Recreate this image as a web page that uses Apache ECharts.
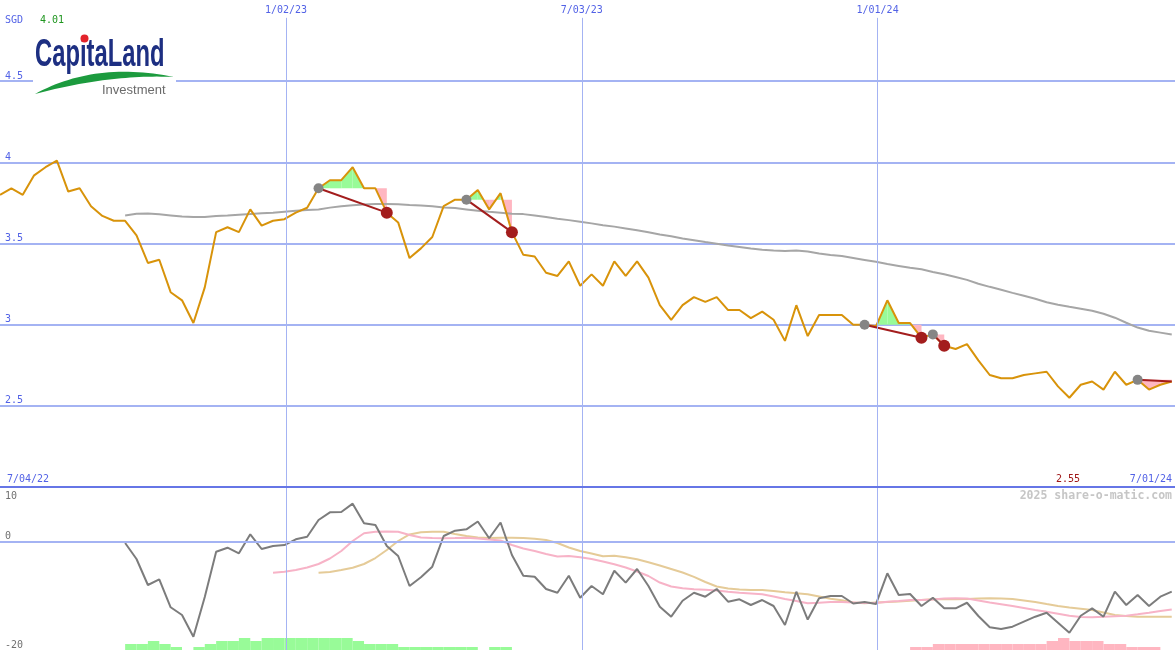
<!DOCTYPE html>
<html><head><meta charset="utf-8">
<script src="https://cdn.jsdelivr.net/npm/echarts@6/dist/echarts.min.js"></script>
<style>html,body{margin:0;padding:0;background:#ffffff}#c{width:1175px;height:650px}</style>
</head><body><div id="c"></div><script>
// ---------- data (weekly closes) ----------
const firstWeek = '2022-07-10';
const rangeEnd = '2024-07-02';
const currency = 'SGD';
const rangeStartLabel = '7/04/22';
const rangeEndLabel = '7/01/24';
const gridDates = ['2023-01-02', '2023-07-03', '2024-01-01'];
const gridLabels = ['1/02/23', '7/03/23', '1/01/24'];

const price = [3.80,3.84,3.80,3.92,3.97,4.01,3.82,3.84,3.73,3.67,
  3.64,3.64,3.55,3.38,3.40,3.20,3.15,3.01,3.23,3.57,
  3.60,3.57,3.71,3.61,3.64,3.65,3.69,3.72,3.84,3.89,
  3.89,3.97,3.84,3.84,3.69,3.63,3.41,3.47,3.54,3.73,
  3.77,3.77,3.83,3.71,3.81,3.57,3.43,3.42,3.32,3.30,
  3.39,3.24,3.31,3.24,3.39,3.30,3.39,3.29,3.12,3.03,
  3.12,3.17,3.14,3.17,3.09,3.09,3.04,3.08,3.03,2.90,
  3.12,2.93,3.06,3.06,3.06,3.00,3.00,2.99,3.15,3.01,
  3.01,2.92,2.94,2.87,2.85,2.88,2.78,2.69,2.67,2.67,
  2.69,2.70,2.71,2.62,2.55,2.63,2.65,2.60,2.71,2.63,
  2.66,2.60,2.63,2.65];

const movingAvg = [null,null,null,null,null,null,null,null,null,null,
  null,3.673,3.683,3.685,3.680,3.673,3.666,3.663,3.663,3.669,
  3.672,3.677,3.681,3.687,3.690,3.696,3.702,3.706,3.710,3.721,
  3.730,3.736,3.740,3.743,3.744,3.742,3.737,3.734,3.730,3.722,
  3.718,3.710,3.702,3.695,3.690,3.684,3.681,3.672,3.663,3.653,
  3.644,3.634,3.624,3.613,3.604,3.593,3.581,3.569,3.555,3.544,
  3.531,3.520,3.509,3.499,3.488,3.479,3.469,3.462,3.457,3.454,
  3.457,3.451,3.439,3.429,3.423,3.411,3.399,3.387,3.374,3.362,
  3.350,3.341,3.325,3.310,3.294,3.276,3.252,3.233,3.215,3.196,
  3.178,3.160,3.138,3.123,3.110,3.098,3.086,3.067,3.043,3.012,
  2.982,2.963,2.951,2.939];

const oscillator = [null,null,null,null,null,null,null,null,null,null,
  null,-0.31,-3.25,-8.04,-6.99,-12.14,-13.56,-17.55,-10.25,-1.91,
  -1.17,-2.20,1.29,-1.41,-0.86,-0.68,0.37,0.85,3.93,5.34,
  5.40,6.93,3.32,3.01,-0.86,-2.70,-8.22,-6.62,-4.67,0.98,
  1.96,2.21,3.65,0.56,3.47,-2.52,-6.33,-6.51,-8.77,-9.46,
  -6.33,-10.38,-8.22,-9.75,-5.41,-7.61,-5.09,-8.22,-12.03,-13.87,
  -10.93,-9.46,-10.19,-8.77,-11.11,-10.67,-11.72,-10.80,-11.90,-15.40,
  -9.27,-14.39,-10.49,-10.06,-10.06,-11.44,-11.17,-11.54,-5.88,-9.88,
  -9.69,-11.90,-10.38,-12.33,-12.33,-11.30,-13.74,-15.82,-16.14,-15.71,
  -14.79,-13.87,-13.14,-14.98,-16.82,-13.69,-12.33,-13.87,-9.27,-11.72,
  -9.88,-11.90,-10.19,-9.27];

const oscSignal = [null,null,null,null,null,null,null,null,null,null,
  null,null,null,null,null,null,null,null,null,null,
  null,null,null,null,-5.77,-5.59,-5.28,-4.82,-4.17,-3.16,
  -1.78,0.06,1.48,1.77,1.81,1.77,1.17,0.70,0.61,0.56,
  0.61,0.67,0.52,0.34,0.15,-0.68,-1.32,-1.78,-2.33,-2.79,
  -2.70,-2.94,-3.25,-3.71,-4.23,-4.82,-5.55,-6.38,-7.58,-8.31,
  -8.65,-8.83,-8.92,-9.05,-9.27,-9.47,-9.60,-9.75,-10.15,-10.61,
  -10.98,-11.41,-11.30,-11.17,-11.17,-11.26,-11.35,-11.35,-11.11,-10.98,
  -10.80,-10.80,-10.71,-10.52,-10.49,-10.52,-10.89,-11.26,-11.57,-11.90,
  -12.27,-12.64,-12.95,-13.32,-13.69,-13.93,-13.98,-13.89,-13.78,-13.69,
  -13.43,-13.14,-12.82,-12.55];

const oscSlow = [null,null,null,null,null,null,null,null,null,null,
  null,null,null,null,null,null,null,null,null,null,
  null,null,null,null,null,null,null,null,-5.77,-5.65,
  -5.28,-4.85,-4.17,-3.07,-1.60,0.06,1.26,1.66,1.77,1.77,
  1.35,0.98,0.70,0.61,0.67,0.67,0.61,0.48,0.24,-0.31,
  -1.14,-1.78,-2.24,-2.76,-2.66,-2.94,-3.31,-3.86,-4.45,-5.09,
  -5.74,-6.53,-7.49,-8.31,-8.68,-8.87,-8.96,-8.96,-9.14,-9.38,
  -9.57,-9.73,-10.15,-10.58,-10.85,-11.26,-11.41,-11.26,-11.17,-11.08,
  -10.95,-10.80,-10.67,-10.67,-10.67,-10.61,-10.52,-10.49,-10.52,-10.61,
  -10.89,-11.17,-11.54,-11.90,-12.18,-12.40,-12.64,-13.10,-13.56,-13.74,
  -13.87,-13.87,-13.87,-13.87];

// signed histogram level (+ green, - pink)
const histogram = [0,0,0,0,0,0,0,0,0,0,
  0,2,2,3,2,1,0,1,2,3,
  3,4,3,4,4,4,4,4,4,4,
  4,3,2,2,2,1,1,1,1,1,
  1,1,0,1,1,0,0,0,0,0,
  0,0,0,0,0,0,0,0,0,0,
  0,0,0,0,0,0,0,0,0,0,
  0,0,0,0,0,0,0,0,0,0,
  -1,-1,-2,-2,-2,-2,-2,-2,-2,-2,
  -2,-2,-3,-4,-3,-3,-3,-2,-2,-1,
  -1,-1,0,0];

// trade signals: start week index, end week index, whether closed with an exit dot
const signalStart = [28, 41, 76, 82, 100];
const signalEnd = [34, 45, 81, 83, 103];
const signalClosed = [true, true, true, true, false];

// ---------- styles ----------
const GRIDC = '#a4b3f3', SEP = '#6676e6', BLUE = '#5262e6';
const PRICEC = '#d8930a', MAC = '#a6a6a6';
const OSCC = '#7c7c7c', OSCP = '#f7b3c7', OSCT = '#e5cb98';
const UP = '#98fb98', DN = '#ffb6c1', REDC = '#a31d1d', GRAYDOT = '#858585';
const MONO = "'DejaVu Sans Mono', monospace";

const DAY = 86400000, WEEK = 7 * DAY;
function ts(s) { const p = s.split('-').map(Number); return Date.UTC(p[0], p[1] - 1, p[2]); }
const t0 = ts(firstWeek), tEnd = ts(rangeEnd);
const T = price.map((_, k) => t0 + k * WEEK);
const pts = arr => arr.map((v, k) => v == null ? null : [T[k], v]).filter(Boolean);

const fillData = [];
signalStart.forEach((s, i) => {
  const lv = price[s];
  for (let k = s; k < signalEnd[i]; k++) fillData.push([T[k], price[k], T[k + 1], price[k + 1], lv]);
});

function renderFill(params, api) {
  const v1 = api.value(1), v2 = api.value(3), lv = api.value(4);
  const a = api.coord([api.value(0), v1]), b = api.coord([api.value(2), v2]);
  const la = api.coord([api.value(0), lv]), lb = api.coord([api.value(2), lv]);
  const d1 = v1 - lv, d2 = v2 - lv;
  const polys = [];
  if (d1 * d2 >= 0) {
    polys.push([[la, a, b, lb], (d1 + d2) > 0 ? UP : DN]);
  } else {
    const r = d1 / (d1 - d2);
    const c = [a[0] + r * (b[0] - a[0]), la[1]];
    polys.push([[la, a, c], d1 > 0 ? UP : DN]);
    polys.push([[c, b, lb], d2 > 0 ? UP : DN]);
  }
  return { type: 'group', children: polys.map(p => ({ type: 'polygon', shape: { points: p[0] }, style: { fill: p[1] } })) };
}

// histogram bars: one week wide, growing up from the panel bottom
const histData = histogram.map((h, k) => h === 0 ? null : [T[k], T[k] + WEEK, Math.abs(h), h > 0 ? 1 : -1]).filter(Boolean);
function renderHist(params, api) {
  const p0 = api.coord([api.value(0), 0]);
  const p1 = api.coord([api.value(1), api.value(2)]);
  return { type: 'rect', shape: { x: p0[0], y: p1[1], width: p1[0] - p0[0], height: p0[1] - p1[1] },
    style: { fill: api.value(3) > 0 ? UP : DN } };
}

// logo swoosh outline (two quadratic curves)
function quad(p0, c, p1, n) {
  const out = [];
  for (let i = 0; i <= n; i++) {
    const t = i / n, u = 1 - t;
    out.push([u * u * p0[0] + 2 * u * t * c[0] + t * t * p1[0], u * u * p0[1] + 2 * u * t * c[1] + t * t * p1[1]]);
  }
  return out;
}
const swoosh = quad([35, 94], [95, 61], [174, 77], 30).concat(quad([174, 77], [110, 74], [35, 94], 30));

const hiLabel = Math.max(...price).toFixed(2);
const loLabel = Math.min(...price).toFixed(2);

const txt = (x, y, text, fill, extra) => ({ type: 'text', z: 60, x: x, y: y,
  style: Object.assign({ text: text, fill: fill, font: '10px ' + MONO, textVerticalAlign: 'middle', verticalAlign: 'middle' }, extra || {}) });

const chart = echarts.init(document.getElementById('c'));
chart.setOption({
  animation: false,
  backgroundColor: '#ffffff',
  grid: [
    { left: 0, right: 0, top: -2, height: 489 },
    { left: 0, right: 0, top: 487, height: 163 }
  ],
  xAxis: [
    { type: 'time', gridIndex: 0, min: t0, max: tEnd, position: 'bottom', z: 5,
      axisLine: { show: true, onZero: false, lineStyle: { color: SEP, width: 2 } },
      axisTick: { show: false }, axisLabel: { show: false }, splitLine: { show: false } },
    { type: 'time', gridIndex: 1, min: t0, max: tEnd, show: false, splitLine: { show: false } }
  ],
  yAxis: [
    { type: 'value', gridIndex: 0, min: 2, max: 5, interval: 0.5,
      axisLine: { show: false }, axisTick: { show: false },
      axisLabel: { inside: true, margin: 5, align: 'left', verticalAlign: 'bottom', color: BLUE,
        fontFamily: MONO, fontSize: 10, showMinLabel: false, showMaxLabel: false },
      splitLine: { show: true, showMaxLine: false, lineStyle: { color: GRIDC, width: 2 } } },
    { type: 'value', gridIndex: 1, min: -20, max: 10, interval: 10,
      axisLine: { show: false }, axisTick: { show: false }, splitLine: { show: false },
      axisLabel: { inside: true, margin: 5, align: 'left', verticalAlign: 'bottom', color: '#707070',
        fontFamily: MONO, fontSize: 10, formatter: v => (v === 0 || v === -20) ? String(v) : '' } },
    { type: 'value', gridIndex: 1, min: -20, max: 10, interval: 10, position: 'left',
      axisLine: { show: false }, axisTick: { show: false }, splitLine: { show: false },
      axisLabel: { inside: true, margin: 5, align: 'left', verticalAlign: 'top', padding: [4, 0, 0, 0],
        color: '#707070', fontFamily: MONO, fontSize: 10, formatter: v => v === 10 ? '10' : '' } },
    { type: 'value', gridIndex: 1, min: 0, max: 163 / 3, show: false, splitLine: { show: false } }
  ],
  series: [
    { type: 'custom', name: 'signal fill', xAxisIndex: 0, yAxisIndex: 0, z: 1, silent: true,
      renderItem: renderFill, data: fillData, encode: { x: [0, 2], y: [1, 3, 4] } },
    { type: 'line', name: 'moving average', xAxisIndex: 0, yAxisIndex: 0, z: 2,
      data: pts(movingAvg), symbol: 'none', lineStyle: { color: MAC, width: 2 },
      markLine: { silent: true, symbol: 'none', animation: false,
        lineStyle: { color: GRIDC, width: 1, type: 'solid' },
        label: { show: true, position: 'end', formatter: '{b}', color: BLUE, fontFamily: MONO, fontSize: 10, distance: 2 },
        data: gridDates.map((d, i) => [{ coord: [ts(d), 2], name: gridLabels[i] }, { coord: [ts(d), 4.89] }]) } },
    { type: 'line', name: 'price', xAxisIndex: 0, yAxisIndex: 0, z: 3,
      data: pts(price), symbol: 'none', lineStyle: { color: PRICEC, width: 2 } },
    { type: 'lines', name: 'signal', coordinateSystem: 'cartesian2d', xAxisIndex: 0, yAxisIndex: 0, z: 4,
      lineStyle: { color: REDC, width: 2, opacity: 1 },
      data: signalStart.map((s, i) => ({ coords: [[T[s], price[s]], [T[signalEnd[i]], price[signalEnd[i]]]] })) },
    { type: 'scatter', name: 'entry', xAxisIndex: 0, yAxisIndex: 0, z: 5, symbolSize: 10,
      itemStyle: { color: GRAYDOT, opacity: 1 }, data: signalStart.map(s => [T[s], price[s]]) },
    { type: 'scatter', name: 'exit', xAxisIndex: 0, yAxisIndex: 0, z: 6, symbolSize: 12,
      itemStyle: { color: REDC, opacity: 1 },
      data: signalEnd.filter((e, i) => signalClosed[i]).map(e => [T[e], price[e]]) },

    { type: 'custom', name: 'histogram', xAxisIndex: 1, yAxisIndex: 3, z: 1, silent: true,
      renderItem: renderHist, data: histData, encode: { x: [0, 1], y: 2 } },
    { type: 'line', name: 'slow', xAxisIndex: 1, yAxisIndex: 1, z: 2,
      data: pts(oscSlow), symbol: 'none', lineStyle: { color: OSCT, width: 2 },
      markLine: { silent: true, symbol: 'none', animation: false, label: { show: false },
        lineStyle: { color: GRIDC, width: 1, type: 'solid' },
        data: gridDates.map(d => ({ xAxis: ts(d) })).concat([{ yAxis: 0, lineStyle: { color: GRIDC, width: 2, type: 'solid' } }]) } },
    { type: 'line', name: 'signal line', xAxisIndex: 1, yAxisIndex: 1, z: 3,
      data: pts(oscSignal), symbol: 'none', lineStyle: { color: OSCP, width: 2 } },
    { type: 'line', name: 'oscillator', xAxisIndex: 1, yAxisIndex: 1, z: 4,
      data: pts(oscillator), symbol: 'none', lineStyle: { color: OSCC, width: 2 } }
  ],
  graphic: [
    { type: 'rect', z: 50, shape: { x: 33, y: 30, width: 143, height: 71 }, style: { fill: '#ffffff' } },
    { type: 'polygon', z: 51, shape: { points: swoosh }, style: { fill: '#1c9b3e' } },
    { type: 'text', z: 52, x: 35, y: 55, scaleX: 0.61,
      style: { text: 'CapitaLand', fill: '#1d2f82', fontSize: 39, fontWeight: 'bold', fontFamily: "'Liberation Sans', Arial, sans-serif",
        textVerticalAlign: 'middle', verticalAlign: 'middle' } },
    { type: 'circle', z: 53, shape: { cx: 84.5, cy: 38.5, r: 4 }, style: { fill: '#e3232b' } },
    { type: 'text', z: 52, x: 102, y: 90,
      style: { text: 'Investment', fill: '#6b6b6b', fontSize: 13, fontFamily: "'Liberation Sans', Arial, sans-serif",
        textVerticalAlign: 'middle', verticalAlign: 'middle' } },
    txt(5, 20, currency, BLUE),
    txt(40, 20, hiLabel, '#1f961f'),
    txt(7, 479, rangeStartLabel, BLUE),
    txt(1080, 479, loLabel, '#a01818', { textAlign: 'right', align: 'right' }),
    txt(1172, 479, rangeEndLabel, BLUE, { textAlign: 'right', align: 'right' }),
    txt(1172, 496, '2025 share-o-matic.com', '#c6c6c6', { font: 'bold 11.5px ' + MONO, textAlign: 'right', align: 'right' })
  ]
});
</script></body></html>
